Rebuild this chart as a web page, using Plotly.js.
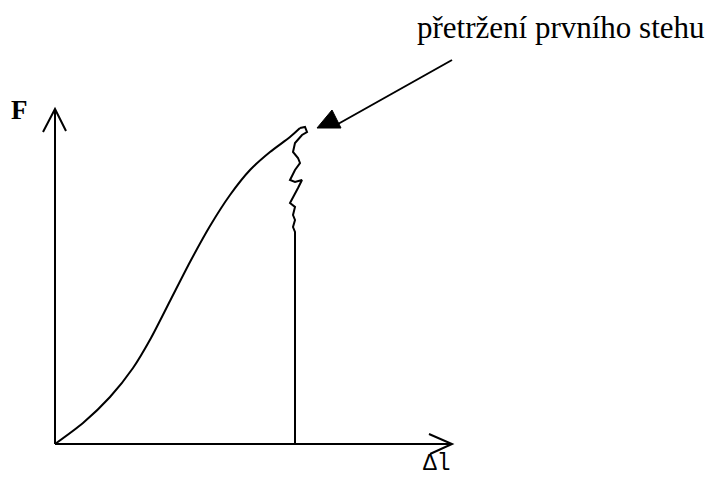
<!DOCTYPE html>
<html>
<head>
<meta charset="utf-8">
<script src="https://cdn.plot.ly/plotly-3.0.1.min.js"></script>
<style>html,body{margin:0;padding:0;background:#fff;}#chart{width:719px;height:479px;}</style>
</head>
<body>
<div id="chart"></div>
<script>
// Smooth loading curve (deformation Δl, force F), arbitrary units
var curveX = [0, 28, 55, 78, 96, 115, 135, 155, 175, 195, 215, 235, 245];
var curveY = [0, 21, 47, 76, 106, 143, 182, 218, 249, 274, 292, 307, 316];
// Jagged tearing part after first stitch breaks, then drop to zero
var tearX = [245, 250, 252, 247, 240, 238, 243, 245, 240, 235, 240, 247, 243, 237, 235, 240, 238, 240, 238, 240, 240];
var tearY = [316, 317, 312, 309, 301, 292, 286, 281, 274, 264, 262, 264, 256, 244, 241, 237, 229, 224, 217, 212, 0];

var annotationText = "přetržení prvního stehu";
var yLabel = "F";
var xLabel = "Δl";

var axisXEnd = 397, axisYEnd = 335;

var traces = [
  {x: curveX, y: curveY, mode: 'lines', line: {color: '#000', width: 2, shape: 'spline', smoothing: 0.7}, hoverinfo: 'skip', showlegend: false},
  {x: tearX, y: tearY, mode: 'lines', line: {color: '#000', width: 2}, hoverinfo: 'skip', showlegend: false}
];

var shapes = [
  {type: 'line', x0: 0, y0: 0, x1: axisXEnd, y1: 0, line: {color: '#000', width: 2}},
  {type: 'line', x0: 0, y0: 0, x1: 0, y1: axisYEnd, line: {color: '#000', width: 2}},
  {type: 'path', path: 'M -12 312 L 0 335 L 11 313', line: {color: '#000', width: 2}},
  {type: 'path', path: 'M 374 10 L 397 0 L 375 -10', line: {color: '#000', width: 2}},
  {type: 'line', x0: 283, y0: 320, x1: 397, y1: 384, line: {color: '#000', width: 2}},
  {type: 'path', path: 'M 277 334 L 262 316 L 286 316 Z', fillcolor: '#000', line: {color: '#000', width: 1}}
];

var layout = {
  width: 719, height: 479,
  margin: {l: 0, r: 0, t: 0, b: 0},
  paper_bgcolor: '#fff', plot_bgcolor: '#fff',
  xaxis: {range: [-55, 664], visible: false, showgrid: false, zeroline: false},
  yaxis: {range: [-35, 444], visible: false, showgrid: false, zeroline: false},
  shapes: shapes,
  annotations: [
    {x: 506, y: 417, xref: 'x', yref: 'y', text: annotationText, showarrow: false,
     font: {family: 'Liberation Serif, Times New Roman, serif', size: 31, color: '#000'}, xanchor: 'center', yanchor: 'middle'},
    {x: -36, y: 334, xref: 'x', yref: 'y', text: '<b>' + yLabel + '</b>', showarrow: false,
     font: {family: 'Liberation Serif, serif', size: 27, color: '#000'}, xanchor: 'center', yanchor: 'middle'},
    {x: 382, y: -20, xref: 'x', yref: 'y', text: xLabel, showarrow: false,
     font: {family: 'Liberation Mono, DejaVu Sans Mono, monospace', size: 23, color: '#000'}, xanchor: 'center', yanchor: 'middle'}
  ]
};

Plotly.newPlot('chart', traces, layout, {staticPlot: true, displayModeBar: false});
</script>
</body>
</html>
